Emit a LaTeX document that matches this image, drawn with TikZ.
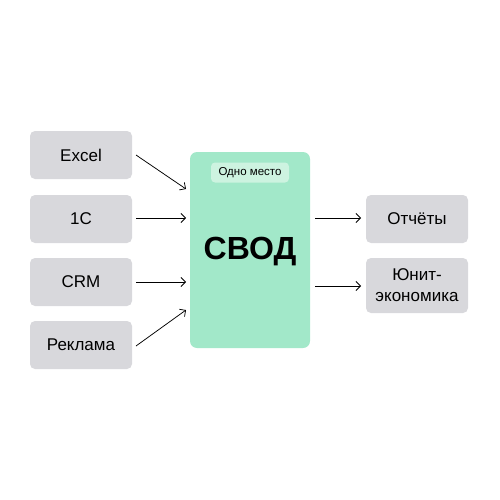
\documentclass[tikz,border=0pt]{standalone}
\usepackage{fontspec}
\setmainfont{Liberation Sans}
\usetikzlibrary{arrows.meta}
\definecolor{boxgray}{RGB}{216,216,220}
\definecolor{boxgreen}{RGB}{162,232,201}
\definecolor{pillgreen}{RGB}{205,243,224}
\tikzset{
  src/.style={draw=none, fill=boxgray, rounded corners=5pt, minimum width=102pt, minimum height=48pt, inner sep=0pt, font=\fontsize{17}{20}\selectfont, align=center},
  arr/.style={-{Straight Barb[length=4.5pt,width=9pt]}, line width=0.75pt, black},
}
\begin{document}
\begin{tikzpicture}[x=1pt,y=-1pt]
\useasboundingbox (0,0) rectangle (500,500);
\node[src] (excel) at (81,155) {Excel};
\node[src] (onec) at (81,219) {1C};
\node[src] (crm) at (81,282) {CRM};
\node[src] (ads) at (81,345) {Реклама};
\node[draw=none, fill=boxgreen, rounded corners=7pt, minimum width=120pt, minimum height=196pt, inner sep=0pt] (svod) at (250,250) {};
\node[font=\fontsize{32}{36}\selectfont\bfseries] (svodt) at (250,252) {СВОД};
\node[fill=pillgreen, rounded corners=4pt, minimum width=78pt, minimum height=20pt, inner sep=0pt, font=\fontsize{11.5}{14}\selectfont] (pill) at (250,172.5) {Одно место};
\node[src] (rep) at (417,219) {Отчёты};
\node[src, minimum height=55pt, font=\fontsize{17}{21}\selectfont] (unit) at (417,285.5) {Юнит-\\экономика};
\coordinate (e1) at (136,155); \coordinate (e2) at (186,189);
\coordinate (o1) at (136,218); \coordinate (o2) at (186,218);
\coordinate (c1) at (136,282); \coordinate (c2) at (186,282);
\coordinate (a1) at (136,346); \coordinate (a2) at (186,310);
\coordinate (r1) at (315,218); \coordinate (r2) at (361,218);
\coordinate (u1) at (315,286); \coordinate (u2) at (361,286);
\draw[arr] (e1) -- (e2);
\draw[arr] (o1) -- (o2);
\draw[arr] (c1) -- (c2);
\draw[arr] (a1) -- (a2);
\draw[arr] (r1) -- (r2);
\draw[arr] (u1) -- (u2);
\end{tikzpicture}
\end{document}
